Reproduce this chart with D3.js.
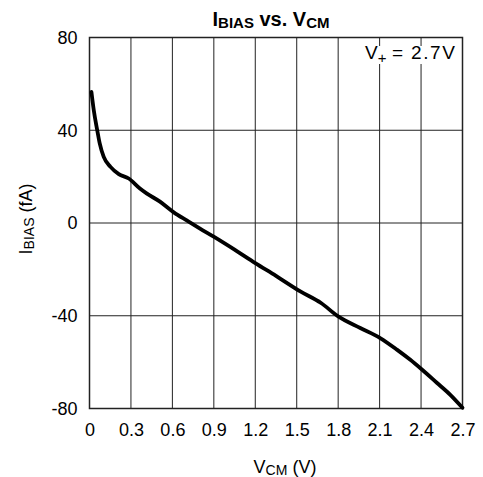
<!DOCTYPE html>
<html><head><meta charset="utf-8">
<script src="https://cdn.jsdelivr.net/npm/d3@7"></script>
<style>body{margin:0;background:#fff}svg{display:block}text{font-family:"Liberation Sans",Arial,sans-serif}</style>
</head><body>
<svg id="c" width="483" height="477"></svg>
<script>
const vcm = [0.014,0.031,0.056,0.074,0.103,0.152,0.212,0.284,0.365,0.413,0.51,0.61,0.707,0.8,0.899,1.05,1.2,1.35,1.526,1.676,1.8,1.96,2.104,2.225,2.32,2.406,2.514,2.61,2.7];
const ibias = [56.5,48.6,40,34.3,28.5,24.2,21.1,19.2,14.9,12.8,9.2,4.6,1.0,-2.4,-5.9,-11.5,-17.3,-22.8,-29.5,-34.5,-40.3,-45.3,-49.6,-54.6,-58.9,-63.2,-68.9,-74,-79.7];
const xTicks = [0,0.3,0.6,0.9,1.2,1.5,1.8,2.1,2.4,2.7];
const yTicks = [-80,-40,0,40,80];

const svg = d3.select("#c");
const L=89.5,R=462.5,T=37.5,B=408.5;
const x = d3.scaleLinear().domain([0,2.7]).range([L,R]);
const y = d3.scaleLinear().domain([-80,80]).range([B,T]);
const FF = "Liberation Sans, Arial, sans-serif";

// grid
svg.append("g").selectAll("line").data(xTicks).join("line")
  .attr("x1",d=>x(d)).attr("x2",d=>x(d)).attr("y1",T).attr("y2",B)
  .attr("stroke","#222").attr("stroke-width",1);
svg.append("g").selectAll("line").data(yTicks).join("line")
  .attr("y1",d=>y(d)).attr("y2",d=>y(d)).attr("x1",L).attr("x2",R)
  .attr("stroke","#222").attr("stroke-width",1);
svg.append("rect").attr("x",L).attr("y",T).attr("width",R-L).attr("height",B-T)
  .attr("fill","none").attr("stroke","#222").attr("stroke-width",1.5);

// axes labels
const ax = d3.axisBottom(x).tickValues(xTicks).tickSize(0).tickPadding(0).tickFormat(d=>d===0?"0":d3.format(".1f")(d));
const gx = svg.append("g").attr("transform",`translate(0,${B})`).call(ax);
gx.select(".domain").remove();
gx.selectAll("text").attr("y",27.5).attr("dy",null).attr("font-size",18).attr("fill","#000").style("font-family",FF);
const ay = d3.axisLeft(y).tickValues(yTicks).tickSize(0).tickPadding(0).tickFormat(d=>String(d));
const gy = svg.append("g").attr("transform",`translate(${L},0)`).call(ay);
gy.select(".domain").remove();
gy.selectAll("text").attr("x",-12).attr("font-size",18).attr("fill","#000").style("font-family",FF);

// curve
svg.append("path").datum(vcm.map((v,i)=>[v,ibias[i]]))
  .attr("d",d3.line().x(d=>x(d[0])).y(d=>y(d[1])).curve(d3.curveMonotoneX))
  .attr("fill","none").attr("stroke","#000").attr("stroke-width",3.8).attr("stroke-linejoin","round").attr("stroke-linecap","round");

// title
const t = svg.append("text").attr("x",271).attr("y",26).attr("text-anchor","middle").attr("font-weight","bold").attr("font-size",20);
t.append("tspan").text("I");
t.append("tspan").attr("font-size",15).attr("dy",2).text("BIAS");
t.append("tspan").attr("dy",-2).text(" vs. V");
t.append("tspan").attr("font-size",15).attr("dy",2).text("CM");

// annotation with white background
svg.append("rect").attr("x",362).attr("y",46).attr("width",97).attr("height",18).attr("fill","#fff");
const a = svg.append("text").attr("x",365).attr("y",59).attr("font-size",19);
a.append("tspan").text("V");
a.append("tspan").attr("font-size",15).attr("dy",4).text("+");
a.append("tspan").attr("dy",-4).attr("x",392).text("=");
a.append("tspan").attr("x",411).attr("letter-spacing",1.6).text("2.7V");

// x label
const xl = svg.append("text").attr("x",285).attr("y",473).attr("text-anchor","middle").attr("font-size",18);
xl.append("tspan").text("V");
xl.append("tspan").attr("font-size",14).attr("dy",2).text("CM");
xl.append("tspan").attr("dy",-2).text(" (V)");

// y label
const yl = svg.append("text").attr("transform","translate(32,219) rotate(-90)").attr("text-anchor","middle").attr("font-size",18);
yl.append("tspan").text("I");
yl.append("tspan").attr("font-size",14).attr("dy",2).text("BIAS");
yl.append("tspan").attr("dy",-2).text(" (fA)");
</script>
</body></html>
